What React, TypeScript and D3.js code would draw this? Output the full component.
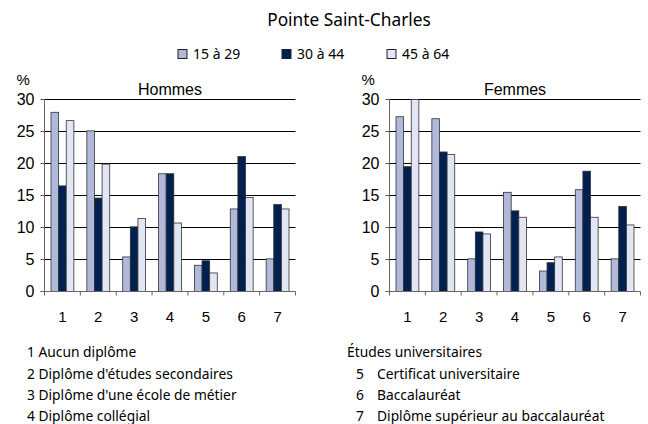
import React from "react";
import * as d3 from "d3";

const categories = ["1", "2", "3", "4", "5", "6", "7"];
const seriesNames = ["15 à 29", "30 à 44", "45 à 64"];
const seriesColors = ["#b1b9da", "#00214f", "#e2e6f4"];

const hommes15 = [28.0, 25.1, 5.4, 18.4, 4.1, 12.9, 5.1];
const hommes30 = [16.5, 14.6, 10.1, 18.4, 4.8, 21.1, 13.6];
const hommes45 = [26.7, 19.9, 11.4, 10.7, 2.9, 14.7, 12.9];

const femmes15 = [27.3, 27.0, 5.1, 15.5, 3.2, 15.9, 5.1];
const femmes30 = [19.5, 21.8, 9.3, 12.6, 4.5, 18.8, 13.3];
const femmes45 = [30.0, 21.4, 9.0, 11.6, 5.4, 11.6, 10.4];

const yTicks = [0, 5, 10, 15, 20, 25, 30];

const leftNotes = [
  "1 Aucun diplôme",
  "2 Diplôme d'études secondaires",
  "3 Diplôme d'une école de métier",
  "4 Diplôme collégial",
];
const rightNotes = [
  ["5", "Certificat universitaire"],
  ["6", "Baccalauréat"],
  ["7", "Diplôme supérieur au baccalauréat"],
];

const axisFont = "'Liberation Sans', Arial, sans-serif";
const textFont = "'Noto Sans', sans-serif";

const y = d3.scaleLinear().domain([0, 30]).range([291.5, 99.5]);

function Panel({ x0, title, series }: { x0: number; title: string; series: number[][] }) {
  const x = d3.scaleBand<string>().domain(categories).range([x0, x0 + 251]).padding(0);
  const bw = x.bandwidth();
  const inner = d3.scaleBand<number>().domain([0, 1, 2]).range([6.5, bw - 6.5]).padding(0);
  const left = x0;
  const right = x0 + 251;
  return (
    <g>
      <text x={x0 - 28} y={85} fontFamily={axisFont} fontSize={15} fill="#000">%</text>
      <text x={(left + right) / 2} y={95} textAnchor="middle" fontFamily={axisFont} fontSize={16} fill="#000">
        {title}
      </text>
      {yTicks.map((t) => (
        <g key={t}>
          {t > 0 && (
            <line x1={left} x2={right} y1={y(t)} y2={y(t)} stroke="#000" strokeWidth={1} />
          )}
          <line x1={left - 4} x2={left} y1={y(t)} y2={y(t)} stroke="#555" />
          <text
            x={left - 10}
            y={y(t) + 5.5}
            textAnchor="end"
            fontFamily={axisFont}
            fontSize={16}
            fill="#000"
          >
            {t}
          </text>
        </g>
      ))}
      {categories.map((c, i) =>
        series.map((vals, s) => (
          <rect
            key={c + "-" + s}
            x={(x(c) as number) + (inner(s) as number)}
            y={y(vals[i])}
            width={inner.bandwidth()}
            height={y(0) - y(vals[i])}
            fill={seriesColors[s]}
            stroke="#333"
            strokeWidth={0.8}
          />
        ))
      )}
      <line x1={left} x2={left} y1={y(30)} y2={y(0)} stroke="#666" />
      <line x1={left - 4} x2={right} y1={y(0)} y2={y(0)} stroke="#666" />
      {[...categories, "end"].map((c, i) => {
        const tx = left + i * bw;
        return <line key={"t" + c} x1={tx} x2={tx} y1={y(0)} y2={y(0) + 4} stroke="#666" />;
      })}
      {categories.map((c) => (
        <text
          key={"l" + c}
          x={(x(c) as number) + bw / 2}
          y={322}
          textAnchor="middle"
          fontFamily={axisFont}
          fontSize={15}
          fill="#000"
        >
          {c}
        </text>
      ))}
    </g>
  );
}

export default function App() {
  const legendX = [178, 282, 387];
  const rowY = [357, 378.5, 400, 421];
  const noteSize = 13.8;
  return (
    <div style={{ position: "absolute", left: 0, top: 0 }}>
      <svg width={648} height={424} style={{ display: "block", background: "#fff" }}>
        <text x={349} y={26} textAnchor="middle" fontFamily={textFont} fontSize={17.3} fill="#000">
          Pointe Saint-Charles
        </text>
        {seriesNames.map((n, i) => (
          <g key={n}>
            <rect x={legendX[i]} y={49.5} width={9} height={9} fill={seriesColors[i]} stroke="#222" />
            <text x={legendX[i] + 15} y={58.5} fontFamily={textFont} fontSize={14} fill="#000">
              {n}
            </text>
          </g>
        ))}
        <Panel x0={44.5} title="Hommes" series={[hommes15, hommes30, hommes45]} />
        <Panel x0={389.5} title="Femmes" series={[femmes15, femmes30, femmes45]} />
        {leftNotes.map((t, i) => (
          <text key={t} x={27} y={rowY[i]} fontFamily={textFont} fontSize={noteSize} fill="#000">
            {t}
          </text>
        ))}
        <text x={347} y={rowY[0]} fontFamily={textFont} fontSize={noteSize} fill="#000">
          Études universitaires
        </text>
        {rightNotes.map(([n, t], i) => (
          <g key={n}>
            <text x={356} y={rowY[i + 1]} fontFamily={textFont} fontSize={noteSize} fill="#000">
              {n}
            </text>
            <text x={377} y={rowY[i + 1]} fontFamily={textFont} fontSize={noteSize} fill="#000">
              {t}
            </text>
          </g>
        ))}
      </svg>
    </div>
  );
}
